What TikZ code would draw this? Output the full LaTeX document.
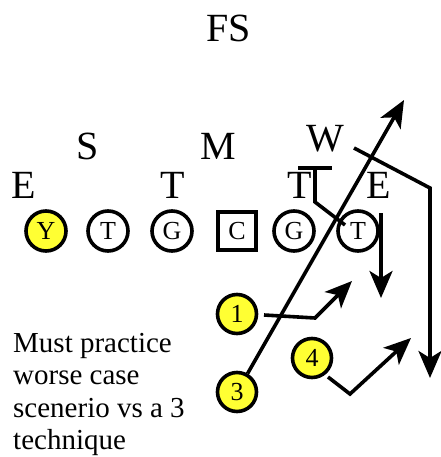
\documentclass[tikz,border=0pt]{standalone}
\usepackage{fontspec}
\setmainfont{Liberation Serif}
\usetikzlibrary{arrows.meta}
\definecolor{pyellow}{RGB}{255,255,51}
\tikzset{
  big/.style={font=\fontsize{40}{42}\selectfont, inner sep=0pt},
  player/.style={circle, draw=black, line width=3.6pt, minimum size=40pt, inner sep=0pt, font=\fontsize{26}{28}\selectfont},
  centerbox/.style={rectangle, draw=black, line width=3.6pt, minimum size=38pt, inner sep=0pt, font=\fontsize{26}{28}\selectfont},
  route/.style={line width=3.6pt, line join=miter},
  arr/.style={route, -{Stealth[length=27pt,width=23pt,inset=7pt]}},
}
\begin{document}
\begin{tikzpicture}[x=1pt,y=-1pt]
\useasboundingbox (0,0) rectangle (440,457);
% defense labels
\node[big] (fs) at (229,28) {FS};
\node[big] (s) at (88,146) {S};
\node[big] (m) at (218,146) {M};
\node[big] (w) at (325,139) {W};
\node[big] (e1) at (24,185) {E};
\node[big] (t1) at (173,185) {T};
\node[big] (t2) at (300,185) {T};
\node[big] (e2) at (379,185) {E};
% offense line
\node[player, fill=pyellow] (y) at (46,231) {Y};
\node[player] (lt) at (108,231) {T};
\node[player] (lg) at (172,231) {G};
\node[centerbox] (c) at (237,231) {C};
\node[player] (rg) at (294,231) {G};
\node[player] (rt) at (358,231) {T};
% backs
\node[player, fill=pyellow, minimum size=39pt] (n1) at (237,314) {1};
\node[player, fill=pyellow, minimum size=39pt] (n3) at (237,392) {3};
\node[player, fill=pyellow, minimum size=39pt] (n4) at (312,358) {4};
% route coordinates
\coordinate (r1a) at (264,315);
\coordinate (r1b) at (315,318);
\coordinate (r1c) at (352,281);
\coordinate (r4a) at (328,377);
\coordinate (r4b) at (350,394);
\coordinate (r4c) at (411,338);
\coordinate (r3c) at (404,100);
\coordinate (ta) at (381,213);
\coordinate (tb) at (381,298);
\coordinate (wa) at (354,148);
\coordinate (wb) at (430,188);
\coordinate (wc) at (430,378);
\coordinate (ba) at (345,225);
\coordinate (bb) at (315,202);
\coordinate (bc) at (315,168);
\coordinate (bl) at (298,168);
\coordinate (br) at (332,168);
% routes
\draw[arr] (r1a) -- (r1b) -- (r1c);
\draw[arr] (r4a) -- (r4b) -- (r4c);
\draw[arr] (n3) -- (r3c);
\draw[arr] (ta) -- (tb);
\draw[arr] (wa) -- (wb) -- (wc);
\draw[route] (ba) -- (bb) -- (bc);
\draw[route] (bl) -- (br);
% note
\node[anchor=north west, inner sep=0pt, align=left, font=\fontsize{29}{32.5}\selectfont] (note) at (13,333) {Must practice\\worse case\\scenerio vs a 3\\technique};
\end{tikzpicture}
\end{document}
